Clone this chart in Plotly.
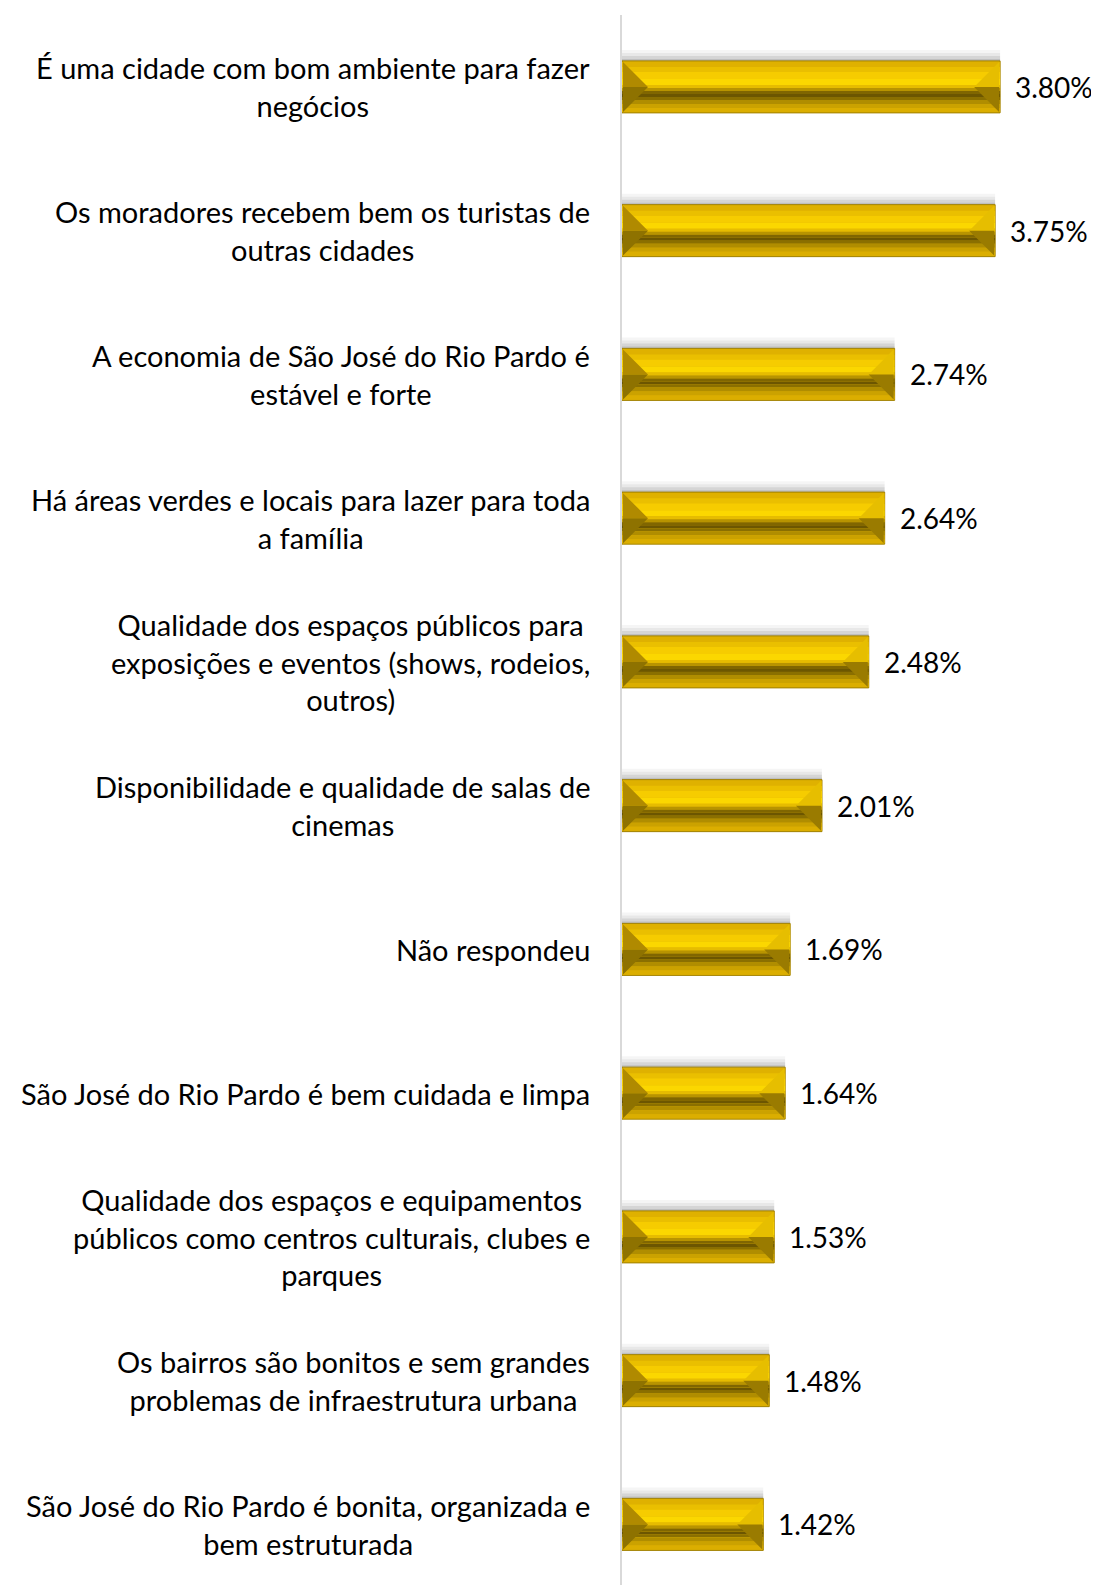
import plotly.graph_objects as go

categories = [
    "É uma cidade com bom ambiente para fazer<br>negócios",
    "Os moradores recebem bem os turistas de<br>outras cidades",
    "A economia de São José do Rio Pardo é<br>estável e forte",
    "Há áreas verdes e locais para lazer para toda<br>a família",
    "Qualidade dos espaços públicos para<br>exposições e eventos (shows, rodeios,<br>outros)",
    "Disponibilidade e qualidade de salas de<br>cinemas",
    "Não respondeu",
    "São José do Rio Pardo é bem cuidada e limpa",
    "Qualidade dos espaços e equipamentos<br>públicos como centros culturais, clubes e<br>parques",
    "Os bairros são bonitos e sem grandes<br>problemas de infraestrutura urbana",
    "São José do Rio Pardo é bonita, organizada e<br>bem estruturada",
]
values = [3.80, 3.75, 2.74, 2.64, 2.48, 2.01, 1.69, 1.64, 1.53, 1.48, 1.42]
value_labels = ["3.80%", "3.75%", "2.74%", "2.64%", "2.48%", "2.01%", "1.69%", "1.64%", "1.53%", "1.48%", "1.42%"]

# page body has an 8px margin -> compensate
PAGE_OFF = 8
W, H = 1099 - PAGE_OFF, 1585 - PAGE_OFF
ML, MT = 622 - PAGE_OFF, 15 - PAGE_OFF
PX_X = 99.5    # pixels per 1 % on x
PX_Y = 143.75  # pixels per category
XMAX = (W - ML) / PX_X
YBOT = -0.5 + (H - MT) / PX_Y

FONT = "Lato"
FSIZE = 29
VSIZE = 28
BAR_PX = 52

pos = list(range(len(categories)))
fig = go.Figure()


def band(a, b, color, line=None):
    off = (-BAR_PX / 2 + a) / PX_Y
    wid = (b - a) / PX_Y
    fig.add_trace(go.Bar(
        x=values, y=pos, orientation="h", base=0,
        width=wid, offset=off,
        marker=dict(color=color, line=dict(width=0 if line is None else 1,
                                           color=line or color)),
        hoverinfo="skip", showlegend=False,
    ))


# soft shadow above bars
band(-11, 0, "rgba(0,0,0,0.04)")
band(-8, 0, "rgba(0,0,0,0.05)")
band(-5, 0, "rgba(0,0,0,0.08)")
band(-2, 0, "rgba(0,0,0,0.10)")
# body and bevel bands
band(0, 52, "#DDB000", line="#A08000")
band(1, 6, "#DFB100")
band(6, 11, "#EABF00")
band(11, 18, "#F6CC00")
band(18, 24, "#FBD700")
band(24, 27, "#E6BC00")
band(27, 30, "#B89400")
band(30, 33, "#806600")
band(33, 36, "#6C5600")
band(36, 39, "#8A6F00")
band(39, 43, "#B08D00")
band(43, 47, "#CBA200")
band(47, 51, "#DBAE00")

# bevelled ends (triangles) computed from the values
tri_px = 25
dx = tri_px / PX_X
hy = (BAR_PX / 2 - 1) / PX_Y
lx_up, ly_up, lx_dn, ly_dn = [], [], [], []
rx_up, ry_up, rx_dn, ry_dn = [], [], [], []
for v, p in zip(values, pos):
    top, bot, mid = p - hy, p + hy, p
    x0 = 0.01
    lx_up += [x0, x0 + dx, x0, x0, None]
    ly_up += [top, mid, mid, top, None]
    lx_dn += [x0, x0 + dx, x0, x0, None]
    ly_dn += [mid, mid, bot, mid, None]
    x1 = v - 0.01
    rx_up += [x1, x1 - dx, x1, x1, None]
    ry_up += [top, mid, mid, top, None]
    rx_dn += [x1, x1 - dx, x1, x1, None]
    ry_dn += [mid, mid, bot, mid, None]

for xs, ys, col in [(lx_up, ly_up, "#B08A00"), (lx_dn, ly_dn, "#8E7200"),
                    (rx_up, ry_up, "#E6BE00"), (rx_dn, ry_dn, "#9A7B00")]:
    fig.add_trace(go.Scatter(x=xs, y=ys, mode="lines", fill="toself",
                             fillcolor=col, line=dict(width=0, color=col),
                             hoverinfo="skip", showlegend=False))

# category labels: centered lines, block right-anchored next to the axis
for cat, p in zip(categories, pos):
    fig.add_annotation(
        x=0, y=p, xref="x", yref="y", text=cat, showarrow=False,
        xanchor="right", yanchor="middle", align="center", xshift=-30,
        font=dict(family=FONT, size=FSIZE, color="#000000"),
    )

# value labels
for v, p, t in zip(values, pos, value_labels):
    fig.add_annotation(
        x=v, y=p, xref="x", yref="y", text=t, showarrow=False,
        xanchor="left", yanchor="middle", xshift=13,
        font=dict(family=FONT, size=VSIZE, color="#000000"),
    )

fig.update_layout(
    width=W, height=H,
    margin=dict(l=ML, r=0, t=MT, b=0),
    paper_bgcolor="white", plot_bgcolor="white",
    barmode="overlay",
    xaxis=dict(range=[0, XMAX], showgrid=False, zeroline=False,
               showticklabels=False, showline=False, fixedrange=True),
    yaxis=dict(range=[YBOT, -0.5], showgrid=False, zeroline=False,
               showticklabels=False, showline=True, linecolor="#D9D9D9",
               linewidth=2, fixedrange=True),
    showlegend=False,
)

fig.write_html("out.html")
